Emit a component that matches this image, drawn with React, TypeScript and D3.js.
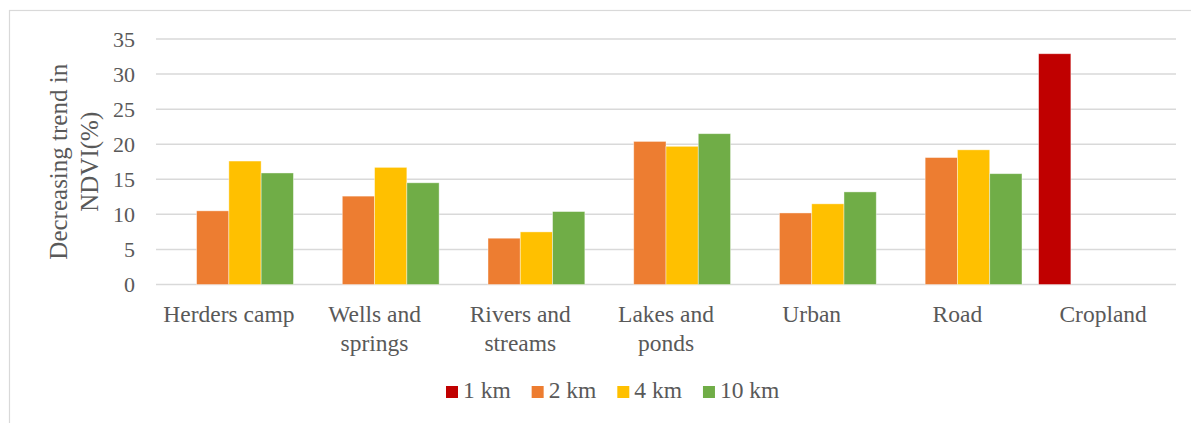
import React, { useMemo } from "react";
import * as d3 from "d3";

const categories: string[][] = [
  ["Herders camp"],
  ["Wells and", "springs"],
  ["Rivers and", "streams"],
  ["Lakes and", "ponds"],
  ["Urban"],
  ["Road"],
  ["Cropland"],
];
const seriesNames = ["1 km", "2 km", "4 km", "10 km"];
const seriesColors = ["#C00000", "#ED7D31", "#FFC000", "#70AD47"];

// null = no bar for that distance
const km1: (number | null)[] = [null, null, null, null, null, null, 32.9];
const km2: (number | null)[] = [10.5, 12.6, 6.6, 20.4, 10.2, 18.1, null];
const km4: (number | null)[] = [17.6, 16.7, 7.5, 19.7, 11.5, 19.2, null];
const km10: (number | null)[] = [15.9, 14.5, 10.4, 21.5, 13.2, 15.8, null];
const seriesValues = [km1, km2, km4, km10];

const yTicks = [0, 5, 10, 15, 20, 25, 30, 35];
const yTitle = ["Decreasing trend in", "NDVI(%)"];

const W = 1191;
const H = 423;
const FONT = "Liberation Serif";
const TEXT = "#595959";
const GRID = "#d9d9d9";

const left = 156;
const right = 1176;
const top = 39;
const bottom = 284.5;
const LEGEND_FS = 23.5;

function measure(s: string, size: number): number {
  const c = document.createElement("canvas").getContext("2d");
  if (!c) return s.length * size * 0.45;
  c.font = `${size}px "${FONT}"`;
  return c.measureText(s).width;
}

export default function App() {
  const y = d3.scaleLinear().domain([0, 35]).range([bottom, top]);
  const x0 = d3
    .scaleBand<number>()
    .domain(d3.range(categories.length))
    .range([left, right])
    .padding(0);
  const gap = x0.bandwidth() * 0.057;
  const x1 = d3
    .scaleBand<number>()
    .domain(d3.range(seriesNames.length))
    .range([gap, x0.bandwidth() - gap])
    .padding(0);

  const legendItems = useMemo(() => {
    let lx = 446;
    return seriesNames.map((name, si) => {
      const item = { name, color: seriesColors[si], x: lx };
      lx += 17 + measure(name, LEGEND_FS) + 21;
      return item;
    });
  }, []);

  const cy = (top + bottom) / 2;

  return (
    <svg
      width={W}
      height={H}
      style={{ position: "absolute", left: 0, top: 0, display: "block", background: "#fff" }}
    >
      {/* outer chart frame */}
      <rect x={9.5} y={10.5} width={1240} height={460} fill="#fff" stroke={GRID} strokeWidth={1.2} />

      {/* gridlines */}
      {yTicks.map((t) => (
        <line key={t} x1={left} x2={right} y1={y(t)} y2={y(t)} stroke={GRID} strokeWidth={1.5} />
      ))}

      {/* y tick labels */}
      {yTicks.map((t) => (
        <text
          key={t}
          x={135}
          y={y(t) + 7.5}
          textAnchor="end"
          fontFamily={FONT}
          fontSize={22}
          fill={TEXT}
        >
          {t}
        </text>
      ))}

      {/* y axis title */}
      <text
        transform={`translate(0,${cy}) rotate(-90)`}
        textAnchor="middle"
        fontFamily={FONT}
        fontSize={25}
        fill={TEXT}
      >
        {yTitle.map((ln, i) => (
          <tspan key={ln} x={0} y={67 + i * 31}>
            {ln}
          </tspan>
        ))}
      </text>

      {/* bars */}
      {seriesValues.map((vals, si) => (
        <g key={si}>
          {vals.map((v, ci) =>
            v === null ? null : (
              <rect
                key={ci}
                x={(x0(ci) as number) + (x1(si) as number)}
                width={x1.bandwidth()}
                y={y(v)}
                height={bottom - y(v)}
                fill={seriesColors[si]}
                stroke="#fff"
                strokeOpacity={0.5}
                strokeWidth={0.8}
              />
            )
          )}
        </g>
      ))}

      {/* category labels */}
      {categories.map((lines, ci) => (
        <text key={ci} textAnchor="middle" fontFamily={FONT} fontSize={23.5} fill={TEXT}>
          {lines.map((ln, li) => (
            <tspan key={li} x={(x0(ci) as number) + x0.bandwidth() / 2} y={322 + li * 29}>
              {ln}
            </tspan>
          ))}
        </text>
      ))}

      {/* legend */}
      {legendItems.map((it) => (
        <g key={it.name}>
          <rect x={it.x} y={386} width={12} height={12} fill={it.color} />
          <text x={it.x + 17} y={398} fontFamily={FONT} fontSize={LEGEND_FS} fill={TEXT}>
            {it.name}
          </text>
        </g>
      ))}
    </svg>
  );
}
